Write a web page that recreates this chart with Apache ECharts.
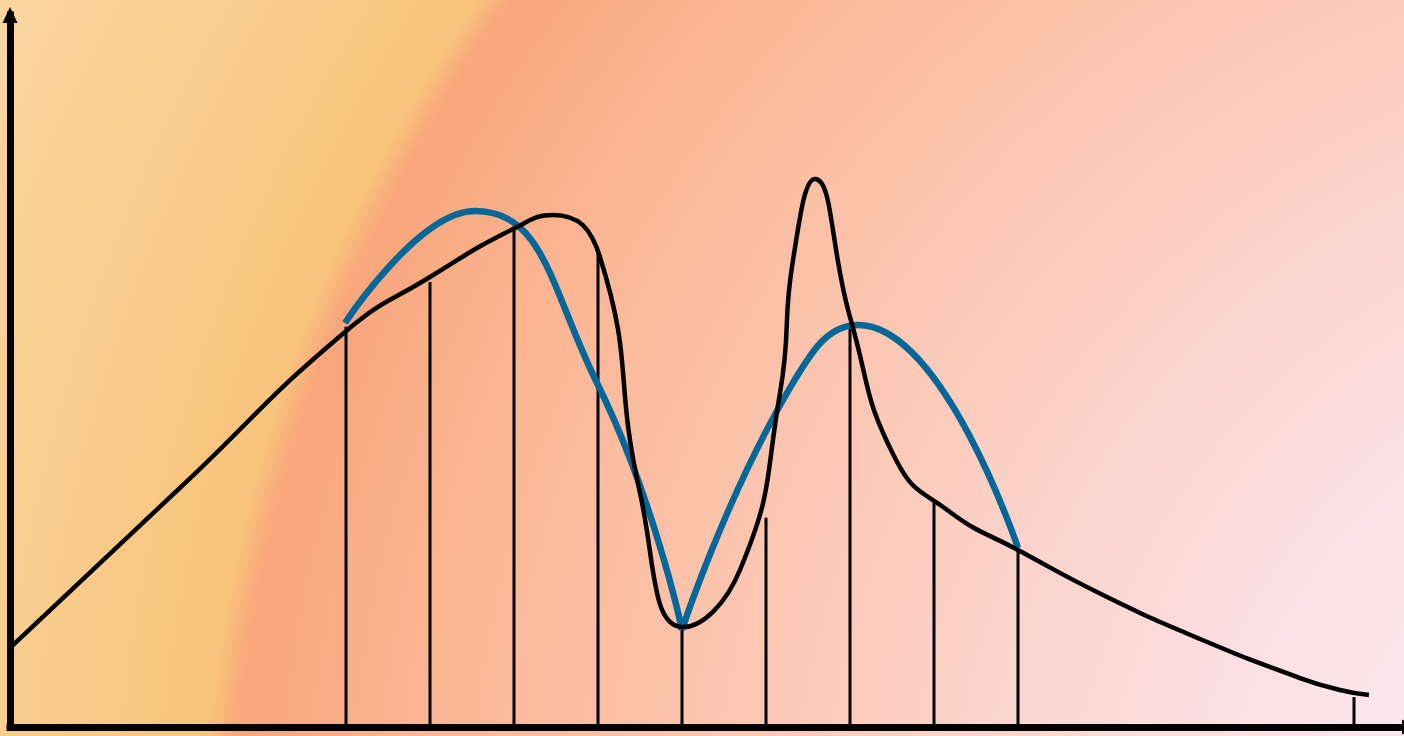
<!DOCTYPE html>
<html>
<head>
<meta charset="utf-8">
<script src="https://cdn.jsdelivr.net/npm/echarts@6/dist/echarts.min.js"></script>
<style>
html,body{margin:0;padding:0;overflow:hidden;}
#chart{width:1404px;height:736px;}
</style>
</head>
<body>
<div id="chart"></div>
<script>
// Black smooth curve (x, y)
const curveX = [0, 12.14, 23.93, 30.0, 35.93, 38.79, 42.14, 45.0, 48.07, 52.14, 55.0, 55.93, 57.5, 60.0, 63.29, 67.14, 72.0, 78.36, 85.0, 92.14, 95.0, 97.07];
const curveY = [11.10, 33.57, 55.48, 63.20, 69.94, 71.91, 66.01, 32.87, 14.04, 22.05, 46.91, 65.59, 76.97, 57.58, 37.50, 30.20, 24.86, 18.26, 12.36, 6.88, 5.20, 4.49];

// Vertical lines
const stickX = [24, 30, 36, 42, 48, 54, 60, 66, 72, 96];
const stickY = [56.2, 62.5, 69.8, 66.6, 13.9, 29.4, 56.2, 31.5, 24.9, 4.2];

// Blue arcs
const blueAX = [23.93, 33.21, 41.93, 48.0];
const blueAY = [56.74, 72.47, 48.31, 13.62];
const blueBX = [48.0, 55.5, 60.57, 72.0];
const blueBY = [13.62, 46.91, 56.46, 25.14];

const zip = (xs, ys) => xs.map((x, i) => [x, ys[i]]);

const chart = echarts.init(document.getElementById('chart'), null, {renderer: 'canvas'});
const axisCommon = {
  type: 'value', min: 0, max: 100,
  splitLine: {show: false}, axisTick: {show: false}, axisLabel: {show: false},
  axisLine: {show: true, symbol: ['none', 'triangle'], symbolSize: [15, 16],
    lineStyle: {color: '#000', width: 7, cap: 'square'}}
};
chart.setOption({
  animation: false,
  graphic: [{
    type: 'rect', z: -10, silent: true,
    shape: {x: 0, y: 0, width: 1404, height: 736},
    style: {fill: {
      type: 'radial', x: 1750, y: 880, r: 1960, global: true,
      colorStops: [
        {offset: 0, color: '#FDEBF3'},
        {offset: 0.19, color: '#FCE6EE'},
        {offset: 0.25, color: '#FCE2E8'},
        {offset: 0.405, color: '#FBD3CB'},
        {offset: 0.463, color: '#FCCDBE'},
        {offset: 0.686, color: '#FBB592'},
        {offset: 0.775, color: '#F8A67B'},
        {offset: 0.79, color: '#F8C47C'},
        {offset: 0.92, color: '#F9D093'},
        {offset: 1, color: '#FAD6A0'}
      ]
    }}
  }],
  grid: {left: 10, width: 1400, top: 15, height: 712, outerBoundsMode: 'none', containLabel: false},
  xAxis: axisCommon,
  yAxis: axisCommon,
  series: [
    {type: 'bar', data: zip(stickX, stickY), barWidth: 3,
      itemStyle: {color: '#000'}, z: 1},
    {type: 'line', data: zip(blueAX, blueAY), smooth: 0.5, symbol: 'none',
      lineStyle: {color: '#046799', width: 6.5}, z: 2},
    {type: 'line', data: zip(blueBX, blueBY), smooth: 0.5, symbol: 'none',
      lineStyle: {color: '#046799', width: 6.5}, z: 2},
    {type: 'line', data: zip(curveX, curveY), smooth: 0.5, symbol: 'none',
      lineStyle: {color: '#000', width: 4.5}, z: 3}
  ]
});
</script>
</body>
</html>
